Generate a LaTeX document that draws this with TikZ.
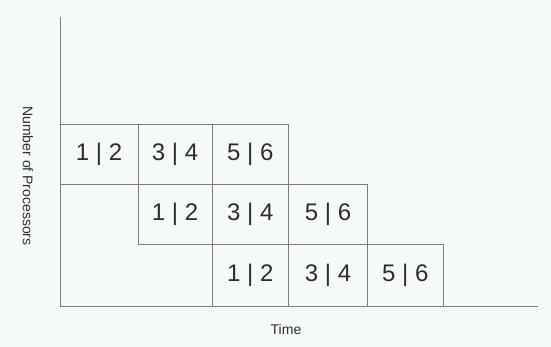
\documentclass[tikz,border=0pt]{standalone}
\usepackage{fontspec}
\setmainfont{Liberation Sans}
\begin{document}
\begin{tikzpicture}[x=1pt,y=-1pt,
  cell/.style={draw=linegray, line width=1pt, inner sep=0pt, text=textgray,
    font=\fontsize{24}{24}\selectfont},
  axislabel/.style={text=textgray, font=\fontsize{14}{14}\selectfont, inner sep=0pt},
  axisline/.style={draw=linegray, line width=1pt}]
\definecolor{linegray}{RGB}{125,125,125}
\definecolor{textgray}{RGB}{45,45,45}
\definecolor{bg}{RGB}{246,250,246}
\fill[bg] (0,0) rectangle (551,347);
\useasboundingbox (0,0) rectangle (551,347);
% axes
\coordinate (ytop) at (60,17);
\coordinate (origin) at (60,306.5);
\coordinate (xend) at (538,306.5);
\draw[axisline] (ytop) -- (origin) -- (xend);
% row 1
\node[cell, minimum width=78pt, minimum height=59.5pt] (r1c1) at (99,154.75) {1 | 2};
\node[cell, minimum width=74pt, minimum height=59.5pt] (r1c2) at (175,154.75) {3 | 4};
\node[cell, minimum width=76.5pt, minimum height=59.5pt] (r1c3) at (250.25,154.75) {5 | 6};
% row 2
\node[cell, minimum width=74pt, minimum height=60.5pt] (r2c1) at (175,214.75) {1 | 2};
\node[cell, minimum width=76.5pt, minimum height=60.5pt] (r2c2) at (250.25,214.75) {3 | 4};
\node[cell, minimum width=79pt, minimum height=60.5pt] (r2c3) at (328,214.75) {5 | 6};
% row 3
\node[cell, minimum width=76.5pt, minimum height=61.5pt] (r3c1) at (250.25,275.75) {1 | 2};
\node[cell, minimum width=79pt, minimum height=61.5pt] (r3c2) at (328,275.75) {3 | 4};
\node[cell, minimum width=75.5pt, minimum height=61.5pt] (r3c3) at (405.25,275.75) {5 | 6};
% labels
\node[axislabel] (tlabel) at (286,329) {Time};
\node[axislabel, rotate=-90] (plabel) at (28,176) {Number of Processors};
\end{tikzpicture}
\end{document}
